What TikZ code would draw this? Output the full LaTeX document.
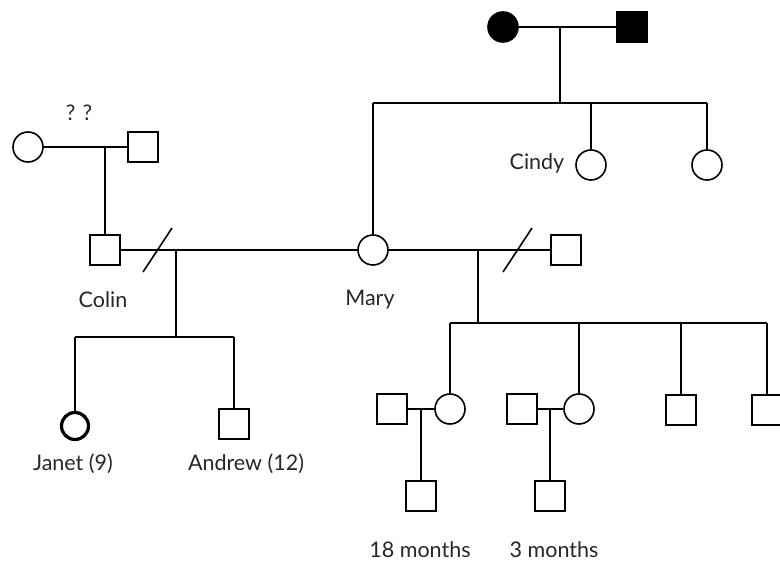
\documentclass[tikz,border=0pt]{standalone}
\usepackage{fontspec}
\setmainfont{Lato}
\begin{document}
\begin{tikzpicture}[x=1pt,y=-1pt,line width=1.6pt,
  fem/.style={circle,draw,minimum size=30pt,inner sep=0pt},
  mal/.style={rectangle,draw,minimum size=30pt,inner sep=0pt},
  lbl/.style={inner sep=0pt,text=black!85,font=\fontsize{21.5}{24}\selectfont}]
\useasboundingbox (0,0) rectangle (780,561);
\clip (0,0) rectangle (780,561);
% grandparents
\node[fem,fill=black] (gm) at (503,27) {};
\node[mal,fill=black] (gf) at (632,27) {};
\coordinate (gpj) at (560,27);
\coordinate (gpd) at (560,103);
\draw (gm) -- (gf);
\draw (gpj) -- (gpd);
\coordinate (sl) at (373,103);
\coordinate (sc) at (591,103);
\coordinate (sr) at (707,103);
\draw (sl) -- (sr);
\node[fem] (cindy) at (591,165) {};
\node[fem] (aunt) at (707,165) {};
\draw (sc) -- (cindy);
\draw (sr) -- (aunt);
\node[fem] (mary) at (373,250) {};
\draw (sl) -- (mary);
% Colin's parents
\node[fem] (cgm) at (28,147) {};
\node[mal] (cgf) at (143,147) {};
\coordinate (cpj) at (105,147);
\draw (cgm) -- (cgf);
\node[mal] (colin) at (105,250) {};
\draw (cpj) -- (colin);
% Colin -- Mary
\draw (colin) -- (mary);
\coordinate (sla) at (143,272);
\coordinate (slb) at (172,228);
\draw (sla) -- (slb);
\coordinate (cmj) at (176,250);
\coordinate (cmd) at (176,337);
\draw (cmj) -- (cmd);
\coordinate (ccl) at (75,337);
\coordinate (ccr) at (234,337);
\draw (ccl) -- (ccr);
\node[fem,line width=3.2pt,minimum size=27pt] (janet) at (75,426) {};
\node[mal] (andrew) at (234,424) {};
\draw (ccl) -- (janet);
\draw (ccr) -- (andrew);
% Mary -- husband
\node[mal] (hus) at (566,250) {};
\draw (mary) -- (hus);
\coordinate (slc) at (503,272);
\coordinate (sld) at (532,228);
\draw (slc) -- (sld);
\coordinate (mhj) at (478,250);
\coordinate (mhd) at (478,323);
\draw (mhj) -- (mhd);
\coordinate (k1) at (450,323);
\coordinate (k2) at (579,323);
\coordinate (k3) at (681,323);
\coordinate (k4) at (767,323);
\draw (k1) -- (k4);
\node[fem] (d1) at (450,409) {};
\node[fem] (d2) at (579,409) {};
\node[mal] (s3) at (681,410) {};
\node[mal] (s4) at (767,410) {};
\draw (k1) -- (d1);
\draw (k2) -- (d2);
\draw (k3) -- (s3);
\draw (k4) -- (s4);
% grandchildren
\node[mal] (p1) at (392,409) {};
\draw (p1) -- (d1);
\coordinate (j1) at (421,409);
\node[mal] (g1) at (421,496) {};
\draw (j1) -- (g1);
\node[mal] (p2) at (522,409) {};
\draw (p2) -- (d2);
\coordinate (j2) at (550,409);
\node[mal] (g2) at (550,496) {};
\draw (j2) -- (g2);
% labels
\node[lbl] (tq) at (79,113) {?\,\,?};
\node[lbl] (tcindy) at (537,163) {Cindy};
\node[lbl] (tcolin) at (103,300) {Colin};
\node[lbl] (tmary) at (370,300) {Mary};
\node[lbl] (tjanet) at (73,464) {Janet (9)};
\node[lbl] (tandrew) at (246,464) {Andrew (12)};
\node[lbl] (t18) at (420,550) {18 months};
\node[lbl] (t3) at (554,550) {3 months};
\end{tikzpicture}
\end{document}
